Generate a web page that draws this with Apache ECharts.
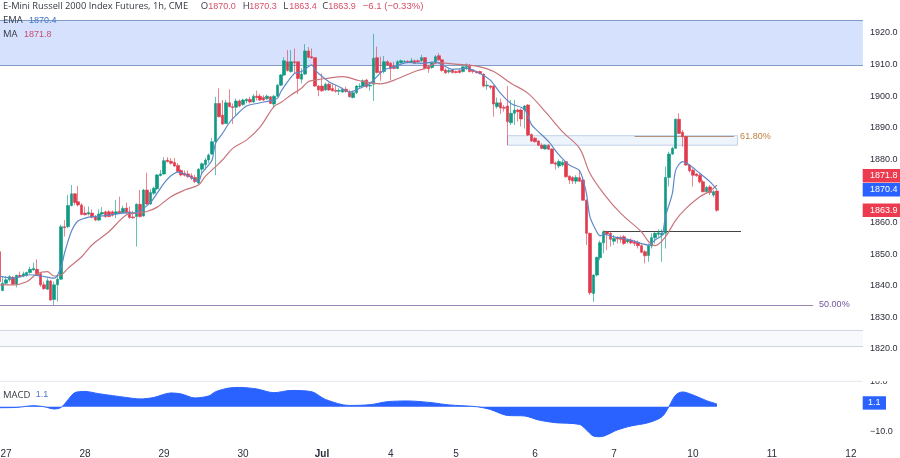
<!DOCTYPE html>
<html><head><meta charset="utf-8">
<style>html,body{margin:0;padding:0;background:#fff}#c{width:900px;height:458px}</style>
<script src="https://cdn.jsdelivr.net/npm/echarts@6/dist/echarts.min.js"></script>
</head><body><div id="c"></div>
<script>
const opens=[
1850.8,1838.5,1840.8,1841.9,1842.7,1840.6,1843.3,1843.1,1843.3,1844.2,
1845.0,1845.2,1843.8,1840.3,1838.9,1841.5,1835.7,1840.3,1842.1,1858.7,
1858.7,1865.4,1869.1,1866.6,1865.6,1863.0,1862.7,1863.0,1861.9,1860.8,
1862.7,1863.4,1863.4,1863.4,1862.7,1863.6,1863.2,1864.6,1863.4,1861.8,
1861.9,1865.8,1862.1,1870.3,1865.9,1869.3,1870.7,1874.9,1875.4,1879.8,
1879.4,1879.0,1878.1,1876.5,1875.6,1875.4,1874.8,1874.3,1872.5,1876.9,
1878.3,1879.8,1881.7,1885.6,1897.7,1894.0,1891.4,1897.9,1896.7,1896.5,
1898.5,1897.4,1898.5,1899.0,1898.2,1900.0,1900.0,1899.6,1899.2,1899.8,
1897.5,1900.0,1903.5,1906.7,1910.9,1907.8,1910.9,1910.9,1905.4,1907.0,
1914.3,1912.5,1912.2,1903.2,1903.2,1902.0,1903.8,1902.4,1901.8,1901.6,
1901.3,1902.2,1901.3,1899.6,1901.1,1903.0,1903.2,1905.1,1903.2,1903.8,
1912.2,1907.8,1907.8,1910.9,1910.4,1909.5,1908.8,1910.6,1910.8,1911.0,
1910.8,1911.2,1911.2,1911.2,1912.2,1909.3,1909.1,1910.6,1912.8,1911.5,
1908.3,1907.7,1908.3,1907.8,1908.1,1907.8,1909.1,1909.5,1908.3,1907.8,
1907.8,1907.0,1903.2,1903.2,1903.2,1896.7,1897.9,1896.5,1896.9,1891.6,
1894.6,1895.6,1895.6,1895.6,1897.2,1887.9,1886.7,1885.8,1884.5,1883.3,
1884.5,1883.3,1878.9,1877.9,1878.2,1879.3,1874.7,1874.3,1873.1,1874.2,
1873.5,1867.1,1856.6,1837.6,1843.4,1848.9,1853.6,1857.1,1856.6,1854.1,
1855.2,1855.3,1855.5,1853.9,1854.5,1853.9,1853.7,1852.7,1850.8,1849.6,
1852.6,1855.2,1856.3,1856.1,1856.6,1874.3,1881.7,1883.5,1892.7,1888.6,
1887.2,1878.2,1876.6,1875.4,1875.0,1872.9,1869.8,1871.3,1868.7,1870.0];
const closes=[
1841.3,1840.8,1841.9,1842.9,1840.6,1843.3,1842.9,1843.8,1844.2,1845.2,
1845.5,1843.5,1840.3,1839.1,1841.6,1835.5,1840.3,1842.1,1858.7,1858.4,
1865.4,1869.1,1866.4,1865.6,1862.6,1862.5,1863.2,1861.7,1860.8,1862.7,
1863.2,1861.9,1861.9,1862.3,1863.4,1863.0,1864.5,1863.2,1861.6,1861.5,
1865.8,1861.9,1870.3,1865.9,1869.5,1870.9,1875.1,1875.4,1879.6,1879.3,
1878.8,1877.9,1876.2,1875.1,1875.0,1874.6,1874.0,1873.0,1876.9,1878.6,
1879.8,1881.4,1885.6,1897.7,1893.5,1891.2,1897.9,1896.7,1896.4,1898.5,
1896.9,1898.8,1899.0,1898.2,1900.0,1899.6,1898.8,1898.8,1900.0,1897.7,
1900.0,1903.5,1906.7,1911.2,1908.1,1910.9,1910.6,1905.6,1907.0,1914.3,
1912.3,1912.1,1903.2,1902.0,1901.7,1903.8,1902.0,1901.7,1901.6,1901.8,
1902.2,1901.5,1899.8,1901.1,1903.2,1903.2,1904.9,1903.0,1903.5,1912.0,
1907.5,1907.4,1910.9,1909.9,1908.8,1908.8,1910.9,1911.2,1911.0,1910.8,
1911.2,1910.4,1910.9,1912.2,1908.8,1908.7,1910.6,1912.5,1911.5,1908.1,
1907.4,1908.1,1907.5,1907.5,1907.5,1909.3,1909.5,1907.8,1907.8,1907.4,
1907.2,1903.2,1903.5,1902.8,1897.5,1897.9,1896.3,1896.2,1891.9,1894.6,
1895.6,1895.1,1892.8,1896.9,1887.7,1885.8,1885.6,1884.5,1883.5,1884.5,
1883.2,1878.7,1878.5,1879.3,1879.1,1874.5,1873.5,1873.2,1874.3,1873.1,
1867.1,1856.6,1837.8,1843.4,1849.0,1853.6,1857.1,1856.4,1854.7,1855.0,
1854.8,1854.7,1853.4,1854.5,1853.6,1853.4,1852.7,1850.6,1849.5,1852.7,
1855.2,1856.6,1856.8,1856.6,1874.3,1881.7,1883.5,1892.7,1888.2,1887.2,
1878.2,1876.4,1875.0,1874.8,1872.9,1869.8,1871.1,1869.5,1869.8,1863.9];
const lows=[
1841.0,1838.3,1840.3,1841.3,1840.3,1839.5,1842.7,1842.7,1842.9,1843.8,
1844.8,1843.1,1839.7,1838.7,1838.7,1835.3,1833.9,1835.0,1841.9,1855.6,
1858.2,1865.1,1865.6,1865.1,1862.3,1862.3,1862.3,1861.4,1860.5,1860.5,
1862.4,1861.5,1861.7,1861.9,1861.4,1862.7,1863.0,1862.7,1861.3,1861.3,
1852.4,1861.6,1861.9,1865.6,1865.6,1868.8,1870.3,1874.6,1875.1,1879.0,
1878.4,1877.7,1876.0,1874.6,1874.6,1874.1,1873.5,1872.5,1872.1,1875.4,
1876.7,1878.8,1881.4,1875.0,1893.3,1890.9,1891.2,1896.5,1891.2,1894.0,
1896.5,1896.9,1897.7,1897.7,1897.9,1898.6,1898.5,1898.5,1898.8,1897.5,
1896.2,1899.8,1903.2,1906.4,1907.8,1907.5,1907.2,1900.7,1904.1,1906.7,
1912.0,1911.9,1903.0,1900.0,1901.4,1901.7,1901.7,1901.5,1901.1,1900.4,
1901.1,1901.1,1899.6,1899.3,1900.7,1902.5,1903.0,1902.5,1901.7,1898.5,
1907.2,1904.9,1907.2,1909.7,1905.1,1908.5,1908.5,1910.4,1910.6,1910.4,
1910.6,1910.2,1910.6,1910.9,1908.5,1907.4,1908.7,1910.4,1911.2,1907.8,
1907.0,1907.2,1907.2,1907.2,1907.2,1907.5,1908.3,1907.5,1907.2,1907.2,
1906.9,1902.8,1902.0,1902.2,1893.5,1896.1,1894.4,1895.1,1884.5,1890.9,
1890.9,1892.0,1890.4,1889.8,1887.4,1885.5,1885.3,1884.2,1883.2,1883.1,
1883.0,1878.5,1876.8,1877.2,1877.7,1874.2,1872.2,1872.2,1872.2,1872.9,
1866.9,1852.9,1837.1,1834.9,1842.9,1848.1,1850.3,1851.3,1852.4,1852.9,
1853.4,1853.6,1852.9,1853.4,1853.2,1852.6,1851.8,1850.3,1847.1,1847.6,
1851.8,1853.4,1855.5,1847.6,1851.8,1871.4,1881.4,1883.3,1888.0,1884.0,
1877.9,1875.8,1871.4,1874.5,1872.4,1869.5,1869.2,1868.7,1868.0,1863.4];
const highs=[
1851.4,1842.9,1843.1,1843.4,1843.1,1843.5,1844.5,1844.5,1844.5,1846.1,
1847.3,1848.4,1844.2,1841.3,1842.4,1841.9,1841.3,1843.4,1859.3,1860.8,
1868.8,1871.9,1869.3,1871.6,1866.1,1865.1,1865.1,1864.2,1862.4,1864.2,
1864.9,1863.8,1864.0,1863.8,1867.2,1868.2,1865.3,1866.3,1865.1,1863.7,
1866.1,1870.3,1870.6,1875.8,1870.6,1871.4,1875.4,1876.7,1880.7,1880.7,
1880.4,1880.4,1878.8,1876.9,1876.5,1876.5,1875.6,1875.1,1877.2,1879.0,
1880.4,1881.9,1886.7,1899.8,1902.5,1898.8,1898.8,1902.2,1897.7,1899.3,
1899.0,1899.2,1899.4,1899.8,1900.7,1901.8,1900.7,1900.3,1900.5,1900.0,
1900.4,1903.8,1907.0,1912.3,1914.6,1914.6,1915.1,1910.9,1908.8,1916.5,
1915.5,1915.1,1912.2,1903.5,1907.2,1904.3,1904.3,1903.8,1903.5,1902.5,
1902.7,1903.0,1902.0,1901.7,1903.5,1904.1,1905.3,1905.5,1904.1,1919.7,
1915.7,1912.5,1912.7,1911.4,1910.9,1910.9,1911.4,1911.6,1911.4,1911.4,
1912.1,1911.6,1911.6,1913.1,1912.3,1909.9,1910.9,1913.0,1913.6,1911.7,
1908.8,1908.8,1908.5,1908.1,1908.5,1909.5,1910.4,1910.2,1908.5,1908.1,
1908.1,1907.2,1904.9,1903.5,1903.4,1899.6,1899.3,1897.2,1903.2,1898.8,
1898.8,1896.1,1896.1,1897.2,1897.5,1888.2,1887.0,1886.1,1885.1,1884.8,
1884.8,1883.5,1879.3,1880.0,1879.8,1879.5,1875.0,1874.7,1875.0,1876.6,
1873.9,1867.3,1856.8,1843.6,1849.2,1854.3,1857.6,1857.4,1857.1,1856.1,
1855.7,1855.9,1856.1,1854.9,1855.0,1854.5,1854.3,1853.4,1851.3,1853.4,
1856.6,1857.1,1857.9,1857.9,1877.7,1882.4,1884.0,1893.0,1894.6,1889.3,
1887.4,1878.5,1877.2,1875.6,1875.4,1873.5,1871.6,1871.9,1870.3,1870.3];

// [bar index, value]
const emaValues=[[0,1843.1],[4,1842.4],[9,1843.5],[12,1843.1],[16,1842.4],[18,1845.9],[19,1850.3],[20,1854],[21,1857.2],[22,1859.3],[23,1860.6],[25,1861.4],[27,1861.9],[30,1862.1],[36,1863],[40,1863.2],[42,1864.5],[44,1866.3],[46,1869.3],[48,1872.5],[50,1874.8],[52,1876],[54,1875.4],[56,1874.3],[58,1873],[59,1875.6],[61,1878.3],[62,1879.8],[63,1885.1],[65,1888.2],[67,1891.6],[69,1894],[72,1896.9],[75,1897.7],[79,1898.6],[81,1899.3],[82,1901.4],[84,1904.6],[86,1907.2],[88,1907.8],[90,1909.3],[91,1909.9],[92,1908.3],[93,1907.2],[96,1904.6],[99,1903],[102,1901.3],[105,1902.5],[108,1904.1],[110,1906.2],[112,1908.3],[115,1909.3],[119,1910.7],[123,1910.4],[127,1910.9],[129,1909.9],[132,1908.5],[136,1908.8],[140,1907.2],[143,1905.1],[146,1900.9],[149,1897.7],[153,1895.8],[155,1891],[157,1888.8],[160,1885.6],[163,1881.4],[166,1878.2],[169,1876.4],[171,1869.2],[172,1861.9],[174,1857.1],[175,1855.8],[176,1856.3],[179,1855.5],[183,1854.7],[187,1853.4],[189,1852.9],[191,1854.5],[193,1856.1],[194,1861.9],[196,1869.2],[197,1876.6],[199,1879.3],[201,1878.2],[204,1875.6],[207,1872.9],[209,1870.4]];
const maValues=[[0,1840.3],[4,1840.3],[8,1841.3],[11,1843.8],[14,1844.5],[16,1843.1],[18,1843.4],[20,1845.5],[24,1849.2],[27,1852.9],[32,1857.2],[37,1862.4],[40,1863],[43,1863.5],[46,1864.9],[50,1868.2],[54,1870.3],[58,1871.9],[60,1874.6],[63,1877.7],[65,1879.8],[68,1883.5],[72,1886.1],[76,1890.3],[80,1896.7],[82,1898],[85,1900.4],[88,1902.5],[90,1904.6],[92,1905.1],[95,1905.6],[100,1906.2],[105,1904.9],[111,1903.9],[115,1905.1],[121,1907.8],[124,1908.8],[128,1910.6],[132,1910.2],[136,1909.9],[140,1909.3],[144,1907.8],[149,1904.1],[154,1900.9],[159,1895.1],[164,1888.8],[169,1883.5],[172,1875.6],[176,1869.2],[181,1862.9],[187,1857.1],[189,1854.1],[191,1852.7],[194,1855.5],[197,1860.8],[200,1864.5],[204,1868.2],[207,1870],[209,1871.8]];
const macdValues=[[0,-0.4],[5,-0.3],[10,0.4],[13,0],[16,-0.9],[18,-0.3],[20,2.7],[22,5.6],[25,6.1],[29,5.2],[37,3.7],[41,3.1],[45,3.7],[50,5.5],[53,5.1],[57,3.5],[61,4.3],[63,6],[67,7.5],[70,7.7],[75,7.1],[80,5.6],[85,6.5],[91,6],[95,2.9],[102,0.5],[108,0.8],[113,2],[119,2.3],[126,1.6],[131,0.7],[139,0],[143,-1.1],[148,-3.5],[153,-3.7],[157,-5.3],[162,-6.4],[169,-7.1],[171,-9.3],[173,-11.7],[175,-12],[180,-9.3],[184,-7.7],[189,-6.4],[193,-4],[195,0],[197,4.7],[199,5.9],[202,4.7],[206,2.4],[209,1.1]];

const dayIndex=[2,25,48,71,94,114,133,156,179,202,225,248];
const dayLabels=['27','28','29','30','Jul','4','5','6','7','10','11','12'];
const barCount=252;
const categories=Array.from({length:barCount},()=> '');
dayIndex.forEach((d,k)=>{categories[d]=dayLabels[k];});
const candles=opens.map((o,k)=>[o,closes[k],lows[k],highs[k]]);

const UP='#0f9a83',DOWN='#e03a4c',BLUE='#2962ff';
const FONT='"Liberation Sans",Arial,sans-serif';
const chart=echarts.init(document.getElementById('c'),null,{renderer:'canvas'});
const hline=(p,color)=>({yAxis:p,lineStyle:{color,width:1,type:'solid'},label:{show:false}});
const seg=(i,j,p,color,text,tcolor)=>[
 {coord:[i,p],lineStyle:{color,width:1,type:'solid'},
  label:text?{show:true,position:'end',formatter:text,color:tcolor,fontSize:9,fontFamily:FONT,distance:6}:{show:false}},
 {coord:[j,p]}];

chart.setOption({
 animation:false,backgroundColor:'#fff',
 grid:[{left:-2.5,top:1.4,width:865.4,height:379.2,outerBoundsMode:'none',containLabel:false},
       {left:-2.5,top:381.7,width:865.4,height:62.5,outerBoundsMode:'none',containLabel:false}],
 xAxis:[
  {type:'category',gridIndex:0,data:categories,boundaryGap:true,axisLine:{show:false},axisTick:{show:false},axisLabel:{show:false},splitLine:{show:false}},
  {type:'category',gridIndex:1,data:categories,boundaryGap:true,axisLine:{show:false},axisTick:{show:false},splitLine:{show:false},
   axisLabel:{show:true,interval:(i,v)=>v!=='',hideOverlap:false,margin:5,color:'#2a2e39',fontSize:10,fontFamily:FONT,
    formatter:v=>v==='Jul'?'{b|Jul}':v,rich:{b:{fontWeight:'bold',fontSize:10,color:'#2a2e39',fontFamily:FONT}}}}
 ],
 yAxis:[
  {type:'value',gridIndex:0,position:'right',min:1810,max:1930,interval:10,axisLine:{show:false},axisTick:{show:false},splitLine:{show:false},
   axisLabel:{margin:7,color:'#2a2e39',fontSize:9,fontFamily:FONT,showMinLabel:false,showMaxLabel:false,formatter:v=>v.toFixed(1)}},
  {type:'value',gridIndex:1,position:'right',min:-15,max:10,interval:5,axisLine:{show:false},axisTick:{show:false},splitLine:{show:false},
   axisLabel:{margin:7,color:'#2a2e39',fontSize:9,fontFamily:FONT,showMaxLabel:true,
    formatter:v=>Math.abs(v)===10?(v<0?'\u2212':'')+Math.abs(v).toFixed(1):''}}
 ],
 series:[
  {name:'zones',type:'line',xAxisIndex:0,yAxisIndex:0,data:[],z:1,silent:true,
   markArea:{silent:true,z:1,data:[
    [{yAxis:1923.9,itemStyle:{color:'#d5e1fd'}},{yAxis:1909.65}],
    [{yAxis:1825.8,itemStyle:{color:'#f7f9fd'}},{yAxis:1820.9}],
    [{coord:[148,1887.5],itemStyle:{color:'#eef4fc',borderColor:'#bfd2e8',borderWidth:1}},{coord:[215,1884.5]}]
   ]},
   markLine:{silent:true,symbol:'none',z:1,data:[
    hline(1923.9,'#7f9cc6'),hline(1909.65,'#7f9cc6'),
    hline(1825.8,'#cdd7df'),hline(1820.9,'#cdd7df'),
    seg(0,237,1834,'#9c86b4','50.00%','#6f559c'),
    seg(185,214,1887.4,'#b5917a','61.80%','#c07f3e'),
    seg(176,216,1857.2,'#444444')
   ]}},
  {name:'Price',type:'candlestick',xAxisIndex:0,yAxisIndex:0,data:candles,z:3,barWidth:3,
   itemStyle:{color:UP,color0:DOWN,borderColor:'rgba(15,154,131,0.62)',borderColor0:'rgba(224,58,76,0.62)',borderWidth:1}},
  {name:'MA',type:'line',xAxisIndex:0,yAxisIndex:0,data:maValues,showSymbol:false,smooth:0.35,z:4,lineStyle:{color:'#c9757c',width:1.2}},
  {name:'EMA',type:'line',xAxisIndex:0,yAxisIndex:0,data:emaValues,showSymbol:false,smooth:0.3,z:4,lineStyle:{color:'#5e88c8',width:1.2}},
  {name:'MACD',type:'line',xAxisIndex:1,yAxisIndex:1,data:macdValues,showSymbol:false,smooth:0.3,z:3,lineStyle:{color:BLUE,width:1},areaStyle:{color:BLUE,opacity:1}}
 ]
});

const py=(p)=>chart.convertToPixel({yAxisIndex:0},p);
const my=(v)=>chart.convertToPixel({yAxisIndex:1},v);
const tag=(y,bg,text,x1=900)=>[
 {type:'rect',shape:{x:862.7,y:y-6.7,width:x1-862.7,height:13.4},style:{fill:bg},z:20},
 {type:'text',x:(862.7+x1)/2+(x1===900?2.5:0),y:y,style:{text,fill:'#fff',font:'9px '+FONT,textAlign:'center',textVerticalAlign:'middle'},z:21}];
const txt=(y,parts)=>parts.map(([t,x,c,size,fam])=>({type:'text',x,y,style:{text:t,fill:c,font:(size||9)+'px '+(fam||FONT),textVerticalAlign:'middle'},z:22}));
const RED='#d84f68',DARK='#333842',OPEN='"Open Sans",sans-serif';
chart.setOption({graphic:{elements:[
 {type:'rect',shape:{x:862,y:362,width:38,height:19.3},style:{fill:'#fff'},z:19},
 {type:'line',shape:{x1:0,y1:381.3,x2:862.7,y2:381.3},style:{stroke:'#e3e6ec',lineWidth:1},z:19},
 ...tag(py(1871.8)-9.5,'#ec3b4e','1871.8'),
 ...tag(py(1870.4),BLUE,'1870.4'),
 ...tag(py(1863.9),'#ec3b4e','1863.9'),
 ...tag(my(1.1)-1,BLUE,'1.1',886),
 ...txt(6.5,[['E-Mini Russell 2000 Index Futures, 1h, CME',3,DARK,9.3,OPEN],['O',200.7,DARK,9.5,OPEN],['1870.0',208.3,RED],['H',242.7,DARK,9.5,OPEN],['1870.3',249.3,RED],['L',283.3,DARK,9.5,OPEN],['1863.4',289.3,RED],['C',322.3,DARK,9.5,OPEN],['1863.9',328.3,RED],['\u22126.1 (\u22120.33%)',362.7,RED,9.6]]),
 ...txt(20.7,[['EMA',3,DARK,9.5,OPEN],['1870.4',29,'#3f74c8']]),
 ...txt(34.3,[['MA',3,DARK,9.5,OPEN],['1871.8',24,'#cc4d6e']]),
 ...txt(395,[['MACD',3,DARK,9.5,OPEN],['1.1',35.7,'#4a78c8']])
]}});
</script></body></html>
